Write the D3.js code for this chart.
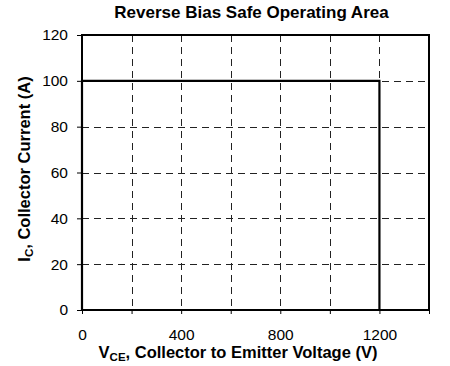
<!DOCTYPE html>
<html>
<head>
<meta charset="utf-8">
<script src="https://cdn.jsdelivr.net/npm/d3@7"></script>
<style>
  html, body { margin: 0; padding: 0; background: #fff; }
  svg { display: block; font-family: "Liberation Sans", Arial, sans-serif; }
</style>
</head>
<body>
<svg id="chart" width="450" height="366"></svg>
<script>
// RBSOA boundary: collector-emitter voltage (V) vs collector current (A)
const vce = [0, 0, 1200, 1200];
const ic = [0, 100, 100, 0];

// Axis ranges and ticks
const xDomain = [0, 1400];
const yDomain = [0, 120];
const xTickLabels = [0, 400, 800, 1200];
const xTicks = [0, 200, 400, 600, 800, 1000, 1200, 1400];
const xGrid = [200, 400, 600, 800, 1000, 1200];
const yTicks = [0, 20, 40, 60, 80, 100, 120];
const yGrid = [20, 40, 60, 80, 100];

const margin = { left: 82, top: 35, right: 21, bottom: 56 };
const W = 450, H = 366;
const svg = d3.select("#chart");

const x = d3.scaleLinear().domain(xDomain).range([margin.left, W - margin.right]);
const y = d3.scaleLinear().domain(yDomain).range([H - margin.bottom, margin.top]);

// Dashed grid
const grid = svg.append("g").attr("stroke", "#222").attr("stroke-width", 1)
  .attr("stroke-dasharray", "7,5").attr("shape-rendering", "crispEdges");
grid.selectAll("line.v").data(xGrid).join("line").attr("class", "v")
  .attr("x1", d => Math.round(x(d)) + 0.5).attr("x2", d => Math.round(x(d)) + 0.5)
  .attr("y1", y(yDomain[1])).attr("y2", y(yDomain[0]));
grid.selectAll("line.h").data(yGrid).join("line").attr("class", "h")
  .attr("y1", d => Math.round(y(d)) + 0.5).attr("y2", d => Math.round(y(d)) + 0.5)
  .attr("x1", x(xDomain[0])).attr("x2", x(xDomain[1]));

const tickFont = 15.5;

// Y axis
const yAxis = svg.append("g").attr("transform", `translate(${x(0)},0)`)
  .call(d3.axisLeft(y).tickValues(yTicks).tickSize(5).tickPadding(9));
yAxis.select(".domain").remove();
yAxis.selectAll("text").attr("font-size", tickFont).attr("fill", "#000")
  .attr("font-family", "Liberation Sans, Arial, sans-serif");
yAxis.selectAll("line").attr("stroke", "#000");

// X axis
const xAxis = svg.append("g").attr("transform", `translate(0,${y(0)})`)
  .call(d3.axisBottom(x).tickValues(xTicks).tickSize(4).tickPadding(15)
    .tickFormat(d => xTickLabels.includes(d) ? d : ""));
xAxis.select(".domain").remove();
xAxis.selectAll("text").attr("font-size", tickFont).attr("fill", "#000")
  .attr("font-family", "Liberation Sans, Arial, sans-serif");
xAxis.selectAll("line").attr("stroke", "#000");

// Plot frame
svg.append("rect")
  .attr("x", x(xDomain[0])).attr("y", y(yDomain[1]))
  .attr("width", x(xDomain[1]) - x(xDomain[0]))
  .attr("height", y(yDomain[0]) - y(yDomain[1]))
  .attr("fill", "none").attr("stroke", "#000").attr("stroke-width", 2);

// Safe operating area boundary
const line = d3.line().x((d, i) => x(vce[i])).y((d, i) => y(ic[i]));
svg.append("path").datum(vce).attr("d", line)
  .attr("fill", "none").attr("stroke", "#000").attr("stroke-width", 2.2);

// Title
svg.append("text").attr("x", 251.5).attr("y", 18).attr("text-anchor", "middle")
  .attr("font-size", 17).attr("font-weight", "bold").text("Reverse Bias Safe Operating Area");

// X axis label with subscript
const labelFont = 16.5, subFont = 11.5;
const xl = svg.append("text").attr("x", 238).attr("y", 358).attr("text-anchor", "middle")
  .attr("font-size", labelFont).attr("font-weight", "bold");
xl.append("tspan").text("V");
xl.append("tspan").attr("font-size", subFont).attr("dy", 3).text("CE");
xl.append("tspan").attr("dy", -3).text(", Collector to Emitter Voltage (V)");

// Y axis label with subscript
const yl = svg.append("text").attr("transform", `translate(30,169) rotate(-90)`)
  .attr("text-anchor", "middle").attr("font-size", labelFont).attr("font-weight", "bold");
yl.append("tspan").text("I");
yl.append("tspan").attr("font-size", subFont).attr("dy", 3).text("C");
yl.append("tspan").attr("dy", -3).text(", Collector Current (A)");
</script>
</body>
</html>
